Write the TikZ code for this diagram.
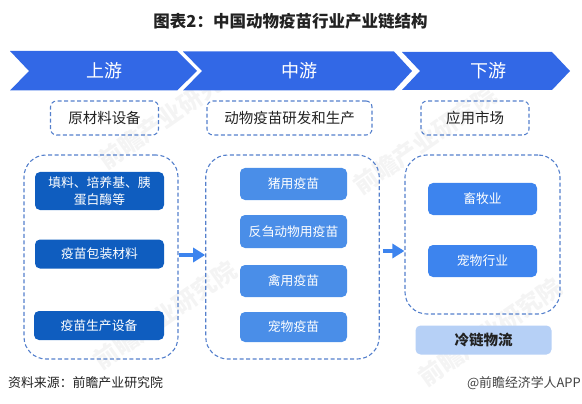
\documentclass[tikz,border=0pt]{standalone}
\usepackage{fontspec}
\setmainfont{Noto Sans CJK SC}
\usepackage{xcolor}
\usetikzlibrary{arrows.meta}
\definecolor{chainblue}{HTML}{3268E6}
\definecolor{dashblue}{HTML}{5580CC}
\definecolor{darkbox}{HTML}{0F5DBF}
\definecolor{midbox}{HTML}{4A8EE8}
\definecolor{rightbox}{HTML}{3D84EE}
\definecolor{coldbox}{HTML}{B6D0F6}
\definecolor{inktext}{HTML}{222222}
\newcommand{\fsz}[1]{\fontsize{#1}{17}\selectfont}
\tikzset{
  chain/.style={fill=chainblue},
  chainlabel/.style={text=white, font=\fsz{18}},
  tagbox/.style={draw=dashblue, dash pattern=on 4pt off 2.5pt, line width=1.1pt, rounded corners=6pt, minimum width=108, minimum height=34, text=inktext, font=\fsz{14.5}, inner sep=0pt},
  groupbox/.style={draw=dashblue, dash pattern=on 4pt off 2.5pt, line width=1.1pt, rounded corners=22pt, inner sep=0pt},
  itembox/.style={rounded corners=5pt, text=white, font=\fsz{12.8}, inner sep=0pt, align=center},
  flow/.style={-{Triangle[length=12pt,width=14pt]}, line width=3.5pt, rightbox},
  watermark/.style={rotate=35, text=gray!9, font=\bfseries\fsz{24}, inner sep=0pt}
}
\begin{document}
\begin{tikzpicture}[x=1pt, y=-1pt]
    \useasboundingbox (0,0) rectangle (582,404);
    % faint marks behind everything
    \node[watermark] (markA) at (170,115) {前瞻产业研究院};
    \node[watermark] (markB) at (165,315) {前瞻产业研究院};
    \node[watermark] (markC) at (425,140) {前瞻产业研究院};
    \node[watermark] (markD) at (490,332) {前瞻产业研究院};
    \node[font=\bfseries\fsz{16.5}, text=inktext] (title) at (290.5,21) {图表2^^^^ff1a中国动物疫苗行业产业链结构};
    % three chevrons
    \fill[chain] (10,51) -- (177,51) -- (197,71) -- (177,90.5) -- (10,90.5) -- (29,71) -- cycle;
    \fill[chain] (183,51.5) -- (394,51.5) -- (412,71) -- (394,90.5) -- (183,90.5) -- (202,71) -- cycle;
    \fill[chain] (402,52) -- (552,52) -- (570,71) -- (552,90) -- (402,90) -- (420,71) -- cycle;
    \node[chainlabel] (upA) at (104.5,71) {上游};
    \node[chainlabel] (midA) at (299,71) {中游};
    \node[chainlabel] (downA) at (488,71) {下游};
    % dashed tags
    \node[tagbox] (upTag) at (104.5,118) {原材料设备};
    \node[tagbox, minimum width=165] (midTag) at (289.5,118) {动物疫苗研发和生产};
    \node[tagbox] (downTag) at (475,118) {应用市场};
    % dashed groups
    \node[groupbox, minimum width=154, minimum height=204] (upBox) at (101,257) {};
    \node[groupbox, minimum width=173.5, minimum height=204] (midBox) at (292.5,257) {};
    \node[groupbox, minimum width=155, minimum height=159] (downBox) at (482.5,234.5) {};
    % upstream items
    \node[itembox, fill=darkbox, minimum width=129, minimum height=38] (fill) at (99.5,191) {填料、培养基、胰\\蛋白酶等};
    \node[itembox, fill=darkbox, minimum width=129, minimum height=29] (pack) at (99.5,254) {疫苗包装材料};
    \node[itembox, fill=darkbox, minimum width=130, minimum height=29] (equip) at (99,325.5) {疫苗生产设备};
    % midstream items
    \node[itembox, fill=midbox, minimum width=107, minimum height=32] (pig) at (293.5,184) {猪用疫苗};
    \node[itembox, fill=midbox, minimum width=107, minimum height=33] (cattle) at (293.5,231.5) {反刍动物用疫苗};
    \node[itembox, fill=midbox, minimum width=107, minimum height=32] (poultry) at (293.5,281) {禽用疫苗};
    \node[itembox, fill=midbox, minimum width=107, minimum height=30] (pet) at (293.5,327) {宠物疫苗};
    % downstream items
    \node[itembox, fill=rightbox, minimum width=109, minimum height=32] (farm) at (482.5,199) {畜牧业};
    \node[itembox, fill=rightbox, minimum width=109, minimum height=32] (petind) at (482.5,261) {宠物行业};
    \node[itembox, fill=coldbox, text=inktext, font=\bfseries\fsz{14.5}, minimum width=136, minimum height=29] (cold) at (483.5,340) {冷链物流};
    % arrows between groups
    \coordinate (flowA) at (0,255);
    \coordinate (flowB) at (0,251);
    \draw[flow] (upBox.east |- flowA) -- (midBox.west |- flowA);
    \draw[flow, shorten <=3pt] (midBox.east |- flowB) -- (downBox.west |- flowB);
    % source lines
    \node[anchor=west, font=\fsz{12.9}, text=inktext, inner sep=0pt] (source) at (8,383) {资料来源^^^^ff1a前瞻产业研究院};
    \node[anchor=east, font=\fsz{12.9}, text=inktext!85, inner sep=0pt] (brand) at (581,383) {@前瞻经济学人APP};
\end{tikzpicture}
\end{document}
